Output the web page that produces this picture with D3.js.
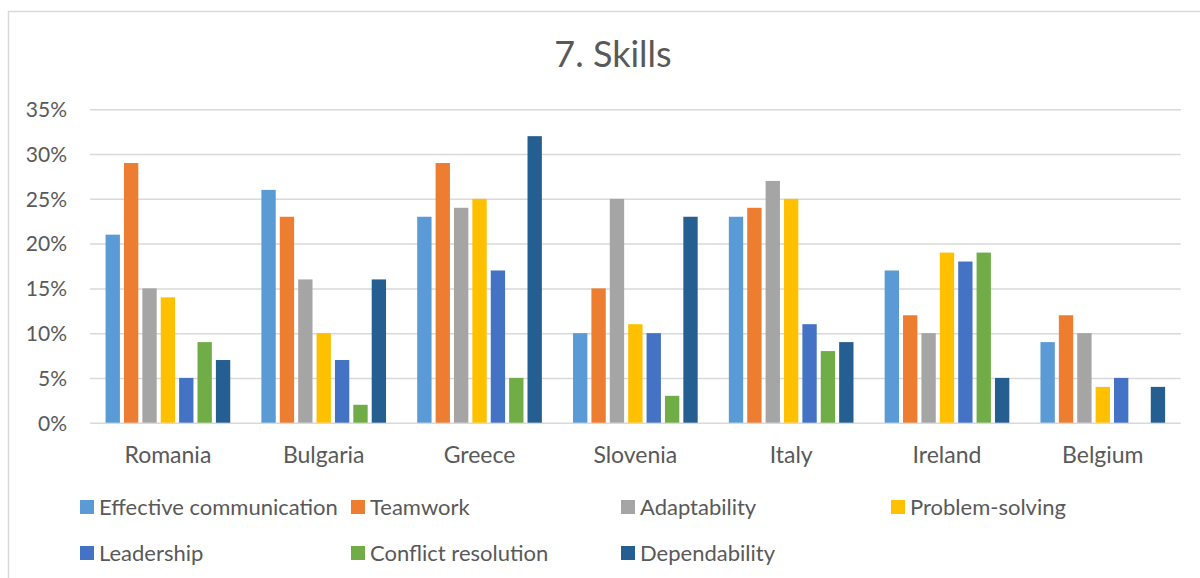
<!DOCTYPE html>
<html>
<head>
<meta charset="utf-8">
<script src="https://cdn.jsdelivr.net/npm/d3@7"></script>
<style>
  html, body { margin: 0; padding: 0; background: #fff; }
  svg { display: block; }
  text { font-family: Lato, "Open Sans", sans-serif; fill: #595959; }
</style>
</head>
<body>
<svg id="chart" width="1200" height="578"></svg>
<script>
const countries = ["Romania", "Bulgaria", "Greece", "Slovenia", "Italy", "Ireland", "Belgium"];
const seriesNames = ["Effective communication", "Teamwork", "Adaptability", "Problem-solving", "Leadership", "Conflict resolution", "Dependability"];
const effectiveCommunication = [0.21, 0.26, 0.23, 0.10, 0.23, 0.17, 0.09];
const teamwork              = [0.29, 0.23, 0.29, 0.15, 0.24, 0.12, 0.12];
const adaptability          = [0.15, 0.16, 0.24, 0.25, 0.27, 0.10, 0.10];
const problemSolving        = [0.14, 0.10, 0.25, 0.11, 0.25, 0.19, 0.04];
const leadership            = [0.05, 0.07, 0.17, 0.10, 0.11, 0.18, 0.05];
const conflictResolution    = [0.09, 0.02, 0.05, 0.03, 0.08, 0.19, 0.00];
const dependability         = [0.07, 0.16, 0.32, 0.23, 0.09, 0.05, 0.04];
const yTicks = [0, 0.05, 0.10, 0.15, 0.20, 0.25, 0.30, 0.35];
const colors = ["#5B9BD5", "#ED7D31", "#A5A5A5", "#FFC000", "#4472C4", "#70AD47", "#255E91"];

const seriesValues = [effectiveCommunication, teamwork, adaptability, problemSolving, leadership, conflictResolution, dependability];

const svg = d3.select("#chart");

// frame (cropped: only left and top edges visible)
svg.append("line").attr("x1", 8.5).attr("x2", 8.5).attr("y1", 11).attr("y2", 578)
  .attr("stroke", "#d9d9d9").attr("stroke-width", 1.5);
svg.append("line").attr("x1", 8).attr("x2", 1200).attr("y1", 11.5).attr("y2", 11.5)
  .attr("stroke", "#d9d9d9").attr("stroke-width", 1.5);

// title
svg.append("text").attr("x", 613).attr("y", 67).attr("text-anchor", "middle")
  .style("font-size", "36px").text("7. Skills");

const x0 = d3.scaleBand().domain(countries).range([90, 1180.7]).padding(0);
const x1 = d3.scaleBand().domain(seriesNames)
  .range([0, x0.bandwidth() * 0.8]).paddingInner(0.22).paddingOuter(0);
const y = d3.scaleLinear().domain([0, 0.35]).range([422.7, 109.3]);

// gridlines
const yAxis = d3.axisLeft(y).tickValues(yTicks).tickFormat(d3.format(".0%"))
  .tickSize(-(1180.7 - 90)).tickPadding(23);
const gy = svg.append("g").attr("transform", "translate(90,0)").call(yAxis);
gy.select(".domain").remove();
gy.selectAll(".tick line").attr("stroke", "#d9d9d9").attr("stroke-width", 1.5);
gy.selectAll(".tick text").style("font-size", "21px").attr("fill", "#595959")
  .attr("dy", "0.35em");

// bars
const groups = svg.append("g").selectAll("g").data(countries).join("g")
  .attr("transform", d => `translate(${x0(d) + x0.bandwidth() * 0.1},0)`);
groups.selectAll("rect")
  .data((c, ci) => seriesNames.map((s, si) => ({ s, si, v: seriesValues[si][ci] })))
  .join("rect")
  .attr("x", d => x1(d.s))
  .attr("width", x1.bandwidth())
  .attr("y", d => y(d.v))
  .attr("height", d => y(0) - y(d.v))
  .attr("fill", d => colors[d.si]);

// x axis labels
const xAxis = d3.axisBottom(x0).tickSize(0).tickPadding(0);
const gx = svg.append("g").attr("transform", "translate(0,422.7)").call(xAxis);
gx.select(".domain").remove();
gx.selectAll(".tick text").style("font-size", "23px").attr("fill", "#595959")
  .attr("y", 24).attr("dy", "0.71em");

// legend
const legendX = [80, 351, 621, 891];
const legendY = [507, 553];
const legend = svg.append("g").selectAll("g").data(seriesNames).join("g")
  .attr("transform", (d, i) => `translate(${legendX[i % 4]},${legendY[Math.floor(i / 4)]})`);
legend.append("rect").attr("x", 0).attr("y", -7).attr("width", 14).attr("height", 14)
  .attr("fill", (d, i) => colors[i]);
legend.append("text").attr("x", 19).attr("y", 0).attr("dy", "0.35em")
  .style("font-size", "22px").text(d => d);
</script>
</body>
</html>
